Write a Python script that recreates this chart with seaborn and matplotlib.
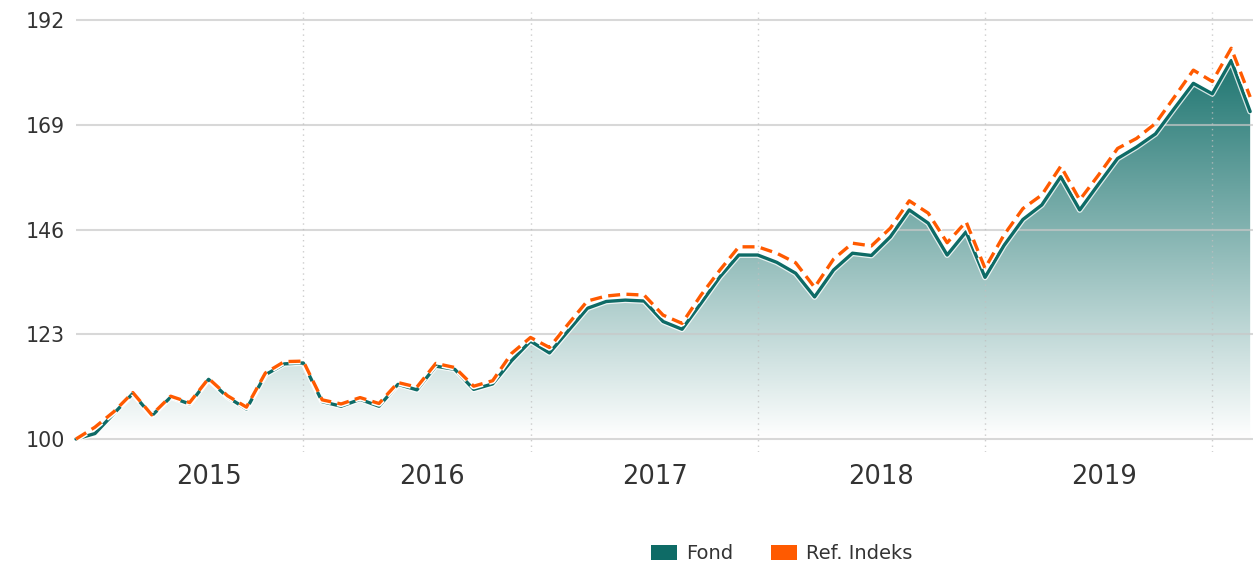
import numpy as np
import pandas as pd
import matplotlib
matplotlib.use("Agg")
import matplotlib.pyplot as plt
import matplotlib.patheffects as pe
from matplotlib.colors import LinearSegmentedColormap
from matplotlib.patches import Patch
import seaborn as sns

# monthly index values
fond = [100.0, 101.2, 105.6, 110.0, 105.1, 109.2, 107.7, 113.1, 109.2, 106.6, 114.1, 116.5, 116.7,
        108.2, 107.2, 108.7, 107.2, 112.0, 110.8, 116.0, 115.3, 110.9, 112.1, 117.2, 121.5, 118.9,
        123.8, 128.7, 130.2, 130.5, 130.3, 125.8, 124.1, 129.8, 135.6, 140.4, 140.4, 138.8, 136.4,
        131.2, 137.1, 140.8, 140.3, 144.4, 150.3, 147.4, 140.4, 145.5, 135.5, 142.5, 148.2, 151.4,
        157.6, 150.3, 156.0, 161.6, 164.1, 167.0, 172.6, 178.1, 175.8, 183.1, 171.9]
ref_indeks = [100.0, 102.6, 106.0, 110.2, 105.3, 109.4, 108.0, 113.3, 109.5, 107.0, 114.5, 117.0, 117.1,
              108.6, 107.7, 109.1, 107.8, 112.4, 111.4, 116.6, 115.7, 111.6, 112.8, 118.8, 122.3, 120.1,
              125.3, 130.3, 131.4, 131.8, 131.6, 127.2, 125.4, 131.6, 137.1, 142.2, 142.2, 140.8, 138.7,
              133.3, 139.5, 143.0, 142.4, 146.3, 152.3, 149.6, 143.1, 147.7, 137.5, 144.8, 150.6, 153.6,
              159.9, 152.5, 158.0, 163.8, 166.0, 169.3, 175.1, 181.0, 178.5, 185.8, 175.1]
y_ticks = [100, 123, 146, 169, 192]
year_labels = ["2015", "2016", "2017", "2018", "2019"]
year_label_pos = [7.0, 18.8, 30.6, 42.5, 54.3]
year_lines = [12, 24, 36, 48, 60]

df = pd.DataFrame({"month": np.arange(len(fond)), "Fond": fond, "Ref. Indeks": ref_indeks})

teal = "#0e6b66"
orange = "#ff5a00"

sns.set_style("white")
plt.rcParams["font.family"] = ["DejaVu Sans"]

fig = plt.figure(figsize=(12.53, 5.65), dpi=100)
ax = fig.add_axes([76 / 1253, 113 / 565, 1177 / 1253, 440 / 565])
ax.set_xlim(0, 62.15)
ax.set_ylim(97.15, 193.76)

# gradient area under the fund line
fill = ax.fill_between(df["month"], df["Fond"], 100, facecolor="none", edgecolor="none")
cmap = LinearSegmentedColormap.from_list("tealfade", ["#ffffff", "#0c6a65"])
grad = np.linspace(0, 1, 256).reshape(-1, 1)
im = ax.imshow(grad, cmap=cmap, aspect="auto", origin="lower",
               extent=[0, 62.15, 100, 190], zorder=1)
im.set_clip_path(fill.get_paths()[0], transform=ax.transData)

# grid
for v in y_ticks:
    ax.axhline(v, color="#c8c8c8", lw=1.5, alpha=0.7, zorder=2)
for v in year_lines:
    ax.axvline(v, color="#c0c0c0", lw=1, ls=(0, (1, 3)), alpha=0.8, zorder=2)

sns.lineplot(data=df, x="month", y="Fond", ax=ax, color=teal, lw=2.4, zorder=4,
             path_effects=[pe.Stroke(linewidth=4.2, foreground="white", alpha=0.8), pe.Normal()])
sns.lineplot(data=df, x="month", y="Ref. Indeks", ax=ax, color=orange, lw=2.4, zorder=5,
             path_effects=[pe.Stroke(linewidth=4.6, foreground="white"), pe.Normal()])
ax.lines[-1].set_dashes([3.6, 1.9])
for ln in ax.lines[-2:]:
    ln.set_clip_on(False)

ax.set_yticks(y_ticks)
ax.set_yticklabels([str(v) for v in y_ticks], fontsize=14.8, color="#333333")
ax.set_xticks(year_label_pos)
ax.set_xticklabels(year_labels, fontsize=18.5, color="#333333")
ax.tick_params(axis="y", length=0, pad=8)
ax.tick_params(axis="x", length=0, pad=9)
ax.set_xlabel("")
ax.set_ylabel("")
for s in ax.spines.values():
    s.set_visible(False)

handles = [Patch(facecolor=teal, edgecolor="none", label="Fond"),
           Patch(facecolor=orange, edgecolor="none", label="Ref. Indeks")]
leg = fig.legend(handles=handles, loc="center", bbox_to_anchor=(0.624, 0.02), ncol=2,
                 frameon=False, fontsize=14, handlelength=1.34, handleheight=0.77,
                 handletextpad=0.46, columnspacing=1.96)
for t in leg.get_texts():
    t.set_color("#333333")

fig.savefig("out.png", dpi=100)
